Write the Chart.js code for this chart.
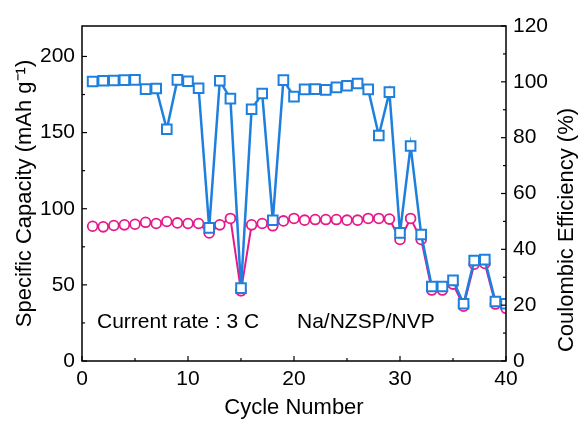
<!DOCTYPE html>
<html><head><meta charset="utf-8">
<script src="https://cdn.jsdelivr.net/npm/chart.js@4"></script>
<style>html,body{margin:0;padding:0;background:#fff}</style>
</head><body>
<canvas id="c" width="581" height="424"></canvas>
<script>
const cycles = [1,2,3,4,5,6,7,8,9,10,11,12,13,14,15,16,17,18,19,20,21,22,23,24,25,26,27,28,29,30,31,32,33,34,35,36,37,38,39,40];
const capacity = [88.5,88.1,89,89.4,89.8,91.1,90.3,91.6,90.7,90.3,90.3,84.1,89.4,93.6,46.1,89.4,90.3,88.8,92,93.6,92.5,92.9,92.9,92.9,92.5,92.5,93.6,93.6,93.2,79.8,93.6,79.8,46.6,46.6,50.5,36,63.6,64.1,37.4,34.6];
const efficiency = [100.1,100.4,100.5,100.6,100.7,97.4,97.6,83,100.7,100.2,97.7,47.7,100.4,94,26.1,90.2,95.8,50.4,100.6,94.7,97.3,97.4,97.1,98,98.6,99.4,97.3,80.8,96.3,45.9,77,45.3,26.7,26.7,28.9,20.5,36,36.3,21.3,20.5];
const xTicks = [0,10,20,30,40];
const xMinor = [5,15,25,35];
const capTicks = [0,50,100,150,200];
const capMinor = [25,75,125,175];
const effTicks = [0,20,40,60,80,100,120];
const effMinor = [10,30,50,70,90,110];
const xTitle = 'Cycle Number';
const capTitle = 'Specific Capacity (mAh g\u207B\u00B9)';
const effTitle = 'Coulombic Efficiency (%)';
const notes = ['Current rate : 3 C', 'Na/NZSP/NVP'];

const FONT = 'Arial, "Liberation Sans", sans-serif';
const BLUE = '#1e80dc';
const PINK = '#e6198a';

const framePlugin = {
  id: 'frame',
  afterDraw(chart) {
    const {ctx, chartArea: a, scales} = chart;
    ctx.save();
    ctx.strokeStyle = '#000';
    ctx.lineWidth = 1.5;
    ctx.strokeRect(a.left, a.top, a.right - a.left, a.bottom - a.top);
    ctx.lineWidth = 1.2;
    const tick = (x1, y1, x2, y2) => { ctx.beginPath(); ctx.moveTo(x1, y1); ctx.lineTo(x2, y2); ctx.stroke(); };
    xTicks.forEach(v => { const p = scales.x.getPixelForValue(v); tick(p, a.bottom, p, a.bottom - 5); });
    xMinor.forEach(v => { const p = scales.x.getPixelForValue(v); tick(p, a.bottom, p, a.bottom - 3); });
    capTicks.forEach(v => { const p = scales.y.getPixelForValue(v); tick(a.left, p, a.left + 5, p); });
    capMinor.forEach(v => { const p = scales.y.getPixelForValue(v); tick(a.left, p, a.left + 3, p); });
    effTicks.forEach(v => { const p = scales.y2.getPixelForValue(v); tick(a.right, p, a.right - 5, p); });
    effMinor.forEach(v => { const p = scales.y2.getPixelForValue(v); tick(a.right, p, a.right - 3, p); });
    ctx.fillStyle = '#000';
    ctx.font = '21px ' + FONT;
    ctx.textBaseline = 'alphabetic';
    ctx.textAlign = 'left';
    ctx.fillText(notes[0], a.left + 15, a.bottom - 33);
    ctx.fillText(notes[1], a.left + 215, a.bottom - 33);
    ctx.font = '22px ' + FONT;
    ctx.translate(567, 230);
    ctx.rotate(-Math.PI / 2);
    ctx.textAlign = 'center';
    ctx.textBaseline = 'middle';
    ctx.fillText(effTitle, 0, 0);
    ctx.restore();
  }
};

const tickFont = {family: FONT, size: 21};
const titleFont = {family: FONT, size: 22};

new Chart(document.getElementById('c'), {
  type: 'line',
  data: {
    datasets: [
      {
        label: 'Coulombic Efficiency',
        yAxisID: 'y2',
        data: cycles.map((c, i) => ({x: c, y: efficiency[i]})),
        borderColor: BLUE,
        backgroundColor: '#fff',
        borderWidth: 2.5,
        pointStyle: 'rect',
        pointRadius: 6.8,
        pointBorderWidth: 2,
        pointBorderColor: BLUE,
        pointBackgroundColor: '#fff',
        tension: 0
      },
      {
        label: 'Specific Capacity',
        yAxisID: 'y',
        data: cycles.map((c, i) => ({x: c, y: capacity[i]})),
        borderColor: PINK,
        backgroundColor: '#fff',
        borderWidth: 2,
        pointStyle: 'circle',
        pointRadius: 4.9,
        pointBorderWidth: 1.8,
        pointBorderColor: PINK,
        pointBackgroundColor: '#fff',
        tension: 0
      }
    ]
  },
  options: {
    responsive: false,
    animation: false,
    devicePixelRatio: 1,
    layout: {padding: {top: 26, left: 0, right: 0, bottom: 0}},
    plugins: {legend: {display: false}, tooltip: {enabled: false}},
    scales: {
      x: {
        type: 'linear', position: 'bottom', min: 0, max: 40,
        afterBuildTicks(s) { s.ticks = xTicks.map(v => ({value: v})); },
        afterFit(s) { s.height = 63; },
        grid: {display: false, drawTicks: false},
        border: {display: false},
        ticks: {font: tickFont, color: '#000', padding: 6, maxRotation: 0, autoSkip: false},
        title: {display: true, text: xTitle, font: titleFont, color: '#000', padding: {top: 0, bottom: 3}}
      },
      y: {
        type: 'linear', position: 'left', min: 0, max: 220,
        afterBuildTicks(s) { s.ticks = capTicks.map(v => ({value: v})); },
        afterFit(s) { s.width = 82; },
        grid: {display: false, drawTicks: false},
        border: {display: false},
        ticks: {font: tickFont, color: '#000', padding: 7, autoSkip: false},
        title: {display: true, text: capTitle, font: titleFont, color: '#000', padding: {top: 12, bottom: 0}}
      },
      y2: {
        type: 'linear', position: 'right', min: 0, max: 120,
        afterBuildTicks(s) { s.ticks = effTicks.map(v => ({value: v})); },
        afterFit(s) { s.width = 75; },
        grid: {display: false, drawTicks: false},
        border: {display: false},
        ticks: {font: tickFont, color: '#000', padding: 7, autoSkip: false}
      }
    }
  },
  plugins: [framePlugin]
});
</script>
</body></html>
